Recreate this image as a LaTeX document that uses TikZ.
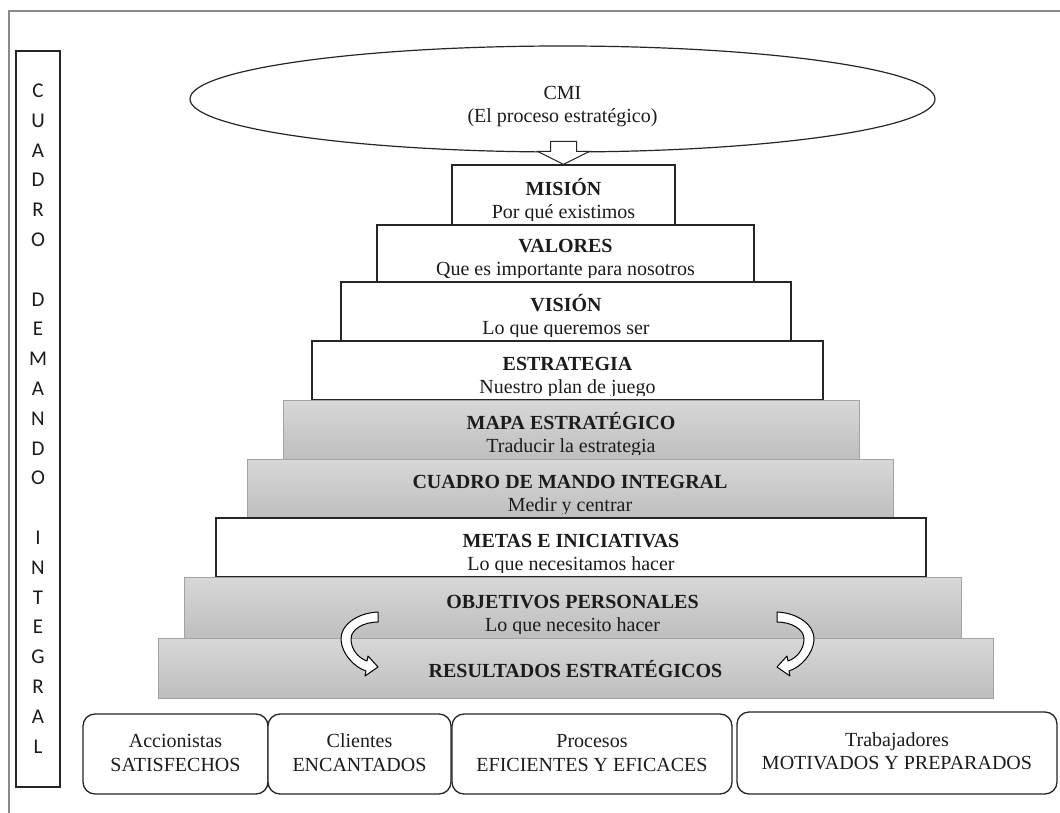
\documentclass[tikz,border=0pt]{standalone}
\usepackage{fontspec}
\setmainfont{Liberation Serif}
\newfontfamily\lettersf{Carlito}
\usetikzlibrary{shapes.geometric,calc}

\definecolor{edge}{HTML}{262626}
\definecolor{framegrey}{HTML}{8A8A8A}
\definecolor{greytop}{HTML}{D8D8D8}
\definecolor{greybot}{HTML}{BEBEBE}
\definecolor{greyedge}{HTML}{A3A3A3}
\definecolor{ink}{HTML}{1C1C1C}

\tikzset{
  x=1pt, y=-1pt,
  frameline/.style={draw=framegrey, line width=2.4pt},
  whitestep/.style={draw=edge, line width=1.2pt, fill=white, inner sep=0pt},
  greystep/.style={draw=greyedge, line width=1pt, top color=greytop, bottom color=greybot, inner sep=0pt},
  titletext/.style={anchor=base, inner sep=0pt, text=ink, font=\fontsize{20}{24}\selectfont\bfseries},
  subtext/.style={anchor=base, inner sep=0pt, text=ink, font=\fontsize{20}{24}\selectfont},
  lettertext/.style={anchor=base, inner sep=0pt, text=ink, font=\lettersf\fontsize{21}{24}\selectfont},
  sidebox/.style={draw=edge, line width=1.2pt, fill=white, inner sep=0pt},
  roundbox/.style={draw=edge, line width=1.3pt, rounded corners=12pt, fill=white, inner sep=0pt},
  topoval/.style={ellipse, draw=edge, line width=1.2pt, fill=white, inner sep=0pt},
  blockarrow/.style={draw=edge, line width=1pt, fill=white, line join=miter},
  curvearrow/.style={draw=black, line width=1pt, fill=white, line join=round},
}

% one stair of the pyramid: name, style, x1, y1, x2, y2, title, subtitle
\newcommand\stairbox[8]{%
  \node[#2, minimum width={(#5)-(#3)}, minimum height={(#6)-(#4)}] (#1) at ({(#3+#5)/2},{(#4+#6)/2}) {};
  \begin{scope}
    \clip ([yshift=5.5pt]#1.south west) rectangle (#1.north east);
    \node[titletext] (#1-t) at ([yshift=30pt]#1.south) {#7};
    \node[subtext] (#1-s) at ([yshift=7pt]#1.south) {#8};
  \end{scope}
}

\begin{document}
\begin{tikzpicture}
\useasboundingbox (0,0) rectangle (1060,813);
\fill[white] (0,0) rectangle (1060,813);

% outer frame (open to the right and bottom)
\draw[frameline] (9,813) -- (9,11) -- (1060,11);

% vertical title box
\node[sidebox, minimum width=44, minimum height=736] (side) at (38,419) {};
\foreach \ch/\k in {C/0,U/1,A/2,D/3,R/4,O/5,D/7,E/8,M/9,A/10,N/11,D/12,O/13,I/15,N/16,T/17,E/18,G/19,R/20,A/21,L/22}{
  \node[lettertext] (lt\k) at (38,{97.5+29.8*\k}) {\ch};
}

% top oval
\node[topoval, minimum width=745, minimum height=106] (cmi) at (562.5,99) {};
\node[subtext] (cmi-t) at (562.5,100) {CMI};
\node[subtext] (cmi-s) at (562.5,123) {(El proceso estratégico)};

% pyramid
\stairbox{mision}{whitestep}{452}{165}{675}{225}{MISIÓN}{Por qué existimos}
\stairbox{valores}{whitestep}{377}{225}{754}{282}{VALORES}{Que es importante para nosotros}
\stairbox{vision}{whitestep}{341}{282}{791}{341}{VISIÓN}{Lo que queremos ser}
\stairbox{estrategia}{whitestep}{312}{341}{823}{400}{ESTRATEGIA}{Nuestro plan de juego}
\stairbox{mapa}{greystep}{283}{400}{859}{459}{MAPA ESTRATÉGICO}{Traducir la estrategia}
\stairbox{cuadro}{greystep}{247}{459}{893}{518}{CUADRO DE MANDO INTEGRAL}{Medir y centrar}
\stairbox{metas}{whitestep}{216}{518}{926}{577}{METAS E INICIATIVAS}{Lo que necesitamos hacer}
\stairbox{objetivos}{greystep}{184}{577}{961}{638}{OBJETIVOS PERSONALES}{Lo que necesito hacer}
\node[greystep, minimum width=835, minimum height=60] (resultados) at (575.5,668) {};
\node[titletext] (resultados-t) at ([yshift=21pt]resultados.south) {RESULTADOS ESTRATÉGICOS};

% block arrow from the oval down to the first stair
\draw[blockarrow] (mision.north) -- ++(-26,-13) -- ++(13,0) -- ++(0,-10) -- ++(26,0)
  -- ++(0,10) -- ++(13,0) -- cycle;

% curved arrows between the two lowest stairs
\draw[curvearrow] (378,612) .. controls (356,613) and (340,626) .. (341,640)
  .. controls (342,654) and (354,667) .. (366,671) -- (365,676) -- (378,667) -- (368,656)
  -- (367,661) .. controls (358,658) and (351,649) .. (351,639)
  .. controls (351,629) and (364,622) .. (378,622) -- cycle;
\draw[curvearrow] (777,612) .. controls (799,613) and (815,626) .. (814,640)
  .. controls (813,654) and (801,667) .. (789,671) -- (790,676) -- (777,667) -- (787,656)
  -- (788,661) .. controls (797,658) and (804,649) .. (804,639)
  .. controls (804,629) and (791,622) .. (777,622) -- cycle;

% stakeholder boxes
\node[roundbox, minimum width=185, minimum height=80] (accionistas) at (175.5,754) {};
\node[roundbox, minimum width=183, minimum height=80] (clientes) at (359.5,754) {};
\node[roundbox, minimum width=280, minimum height=80] (procesos) at (592,754) {};
\node[roundbox, minimum width=320, minimum height=82] (trabajadores) at (897,753) {};

\node[subtext] (accionistas-a) at ([yshift=47pt]accionistas.south) {Accionistas};
\node[subtext] (accionistas-b) at ([yshift=23pt]accionistas.south) {SATISFECHOS};
\node[subtext] (clientes-a) at ([yshift=47pt]clientes.south) {Clientes};
\node[subtext] (clientes-b) at ([yshift=23pt]clientes.south) {ENCANTADOS};
\node[subtext] (procesos-a) at ([yshift=47pt]procesos.south) {Procesos};
\node[subtext] (procesos-b) at ([yshift=23pt]procesos.south) {EFICIENTES Y EFICACES};
\node[subtext] (trabajadores-a) at ([yshift=48pt]trabajadores.south) {Trabajadores};
\node[subtext] (trabajadores-b) at ([yshift=25pt]trabajadores.south) {MOTIVADOS Y PREPARADOS};
\end{tikzpicture}
\end{document}
